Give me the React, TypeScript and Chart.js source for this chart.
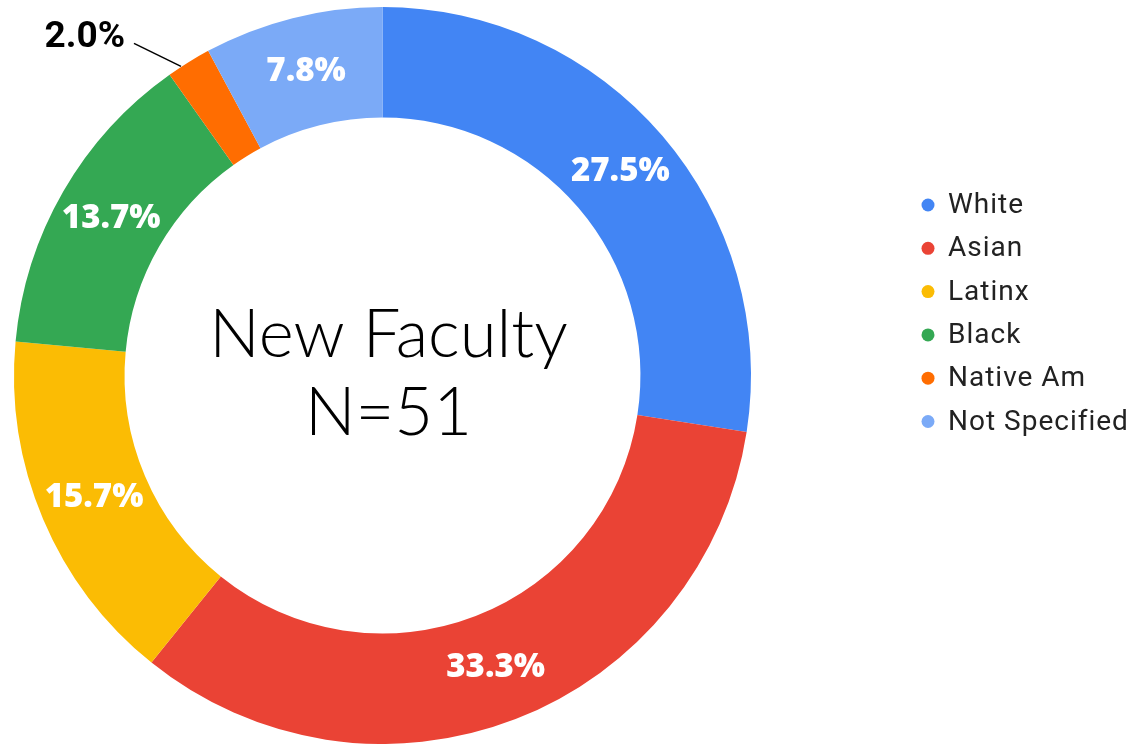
import React, { useEffect, useRef } from "react";
import { Chart, registerables } from "chart.js";

Chart.register(...registerables);

const categories = ["White", "Asian", "Latinx", "Black", "Native Am", "Not Specified"];
const counts = [14, 17, 8, 7, 1, 4];
const sliceColors = ["#4285F4", "#EA4335", "#FBBC04", "#34A853", "#FF6D01", "#7BAAF7"];
const centerLines = ["New Faculty", "N=51"];
const outsideLabelIndex = 4;

const total = counts.reduce((a, b) => a + b, 0);
const pctLabels = counts.map((c) => ((c / total) * 100).toFixed(1) + "%");

const sliceLabelPlugin = {
  id: "sliceLabels",
  afterDatasetsDraw(chart: any) {
    const ctx = chart.ctx;
    const meta = chart.getDatasetMeta(0);
    ctx.save();
    meta.data.forEach((arc: any, i: number) => {
      const { x, y, startAngle, endAngle, innerRadius, outerRadius } = arc.getProps(
        ["x", "y", "startAngle", "endAngle", "innerRadius", "outerRadius"],
        true
      );
      const mid = (startAngle + endAngle) / 2;
      if (i === outsideLabelIndex) {
        const r0 = outerRadius + 1;
        const sx = x + Math.cos(mid) * r0 - 7;
        const sy = y + Math.sin(mid) * r0 + 5;
        const ex = sx - 47;
        const ey = sy - 23;
        ctx.strokeStyle = "#000";
        ctx.lineWidth = 1.5;
        ctx.beginPath();
        ctx.moveTo(sx, sy);
        ctx.lineTo(ex, ey);
        ctx.stroke();
        ctx.fillStyle = "#000";
        ctx.font = "bold 37px Roboto";
        ctx.textAlign = "right";
        ctx.textBaseline = "middle";
        ctx.fillText(pctLabels[i], ex - 9, ey - 6);
      } else {
        const r = (innerRadius + outerRadius) / 2;
        const lx = x + Math.cos(mid) * r;
        const ly = y + Math.sin(mid) * r;
        ctx.fillStyle = "#ffffff";
        ctx.font = "800 33px 'Open Sans'";
        ctx.textAlign = "center";
        ctx.textBaseline = "middle";
        ctx.fillText(pctLabels[i], lx, ly);
      }
    });
    ctx.restore();
  },
};

const centerTextPlugin = {
  id: "centerText",
  afterDraw(chart: any) {
    const ctx = chart.ctx;
    const meta = chart.getDatasetMeta(0);
    const arc = meta.data[0];
    if (!arc) return;
    const cx = arc.x + 6;
    const cy = arc.y;
    ctx.save();
    ctx.fillStyle = "#000";
    ctx.font = "300 67px Lato";
    ctx.textAlign = "center";
    ctx.textBaseline = "middle";
    ctx.fillText(centerLines[0], cx, cy - 40);
    ctx.fillText(centerLines[1], cx, cy + 38);
    ctx.restore();
  },
};

const legendPlugin = {
  id: "customLegend",
  afterDraw(chart: any) {
    const ctx = chart.ctx;
    ctx.save();
    const x0 = 928;
    const y0 = 205;
    const step = 43.3;
    categories.forEach((label, i) => {
      const y = y0 + i * step;
      ctx.fillStyle = sliceColors[i];
      ctx.beginPath();
      ctx.arc(x0, y, 6.5, 0, Math.PI * 2);
      ctx.fill();
      ctx.fillStyle = "#222";
      ctx.font = "28px Roboto";
      (ctx as any).letterSpacing = "1px";
      ctx.textAlign = "left";
      ctx.textBaseline = "middle";
      ctx.fillText(label, x0 + 20, y + 1);
      (ctx as any).letterSpacing = "0px";
    });
    ctx.restore();
  },
};

export default function App() {
  const canvasRef = useRef<HTMLCanvasElement | null>(null);

  useEffect(() => {
    if (!canvasRef.current) return;
    const chart = new Chart(canvasRef.current, {
      type: "doughnut",
      data: {
        labels: categories,
        datasets: [
          {
            data: counts,
            backgroundColor: sliceColors,
            borderWidth: 0,
          },
        ],
      },
      options: {
        responsive: false,
        animation: false,
        cutout: "70%",
        rotation: 0,
        layout: { padding: { left: 14, right: 383, top: 7, bottom: 0 } },
        plugins: {
          legend: { display: false },
          tooltip: { enabled: false },
        },
      },
      plugins: [sliceLabelPlugin, centerTextPlugin, legendPlugin],
    });
    return () => chart.destroy();
  }, []);

  return (
    <div style={{ position: "fixed", left: 0, top: 0, width: 1134, height: 744, background: "#fff" }}>
      <canvas ref={canvasRef} width={1134} height={744} style={{ width: 1134, height: 744 }} />
    </div>
  );
}
